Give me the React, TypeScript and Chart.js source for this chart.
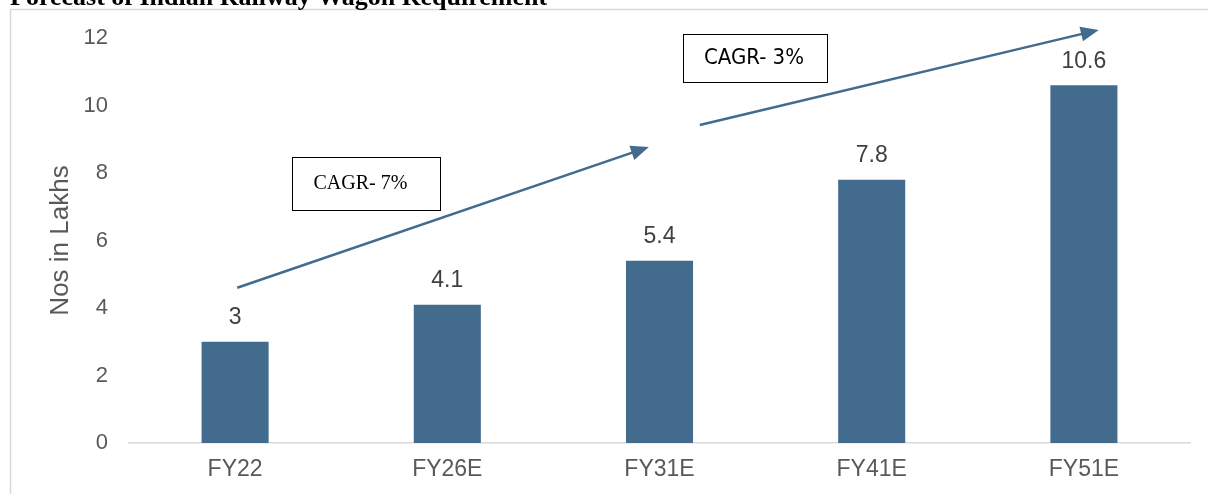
import React, { useEffect, useRef } from "react";
import { Chart, registerables } from "chart.js";

Chart.register(...registerables);

const categories = ["FY22", "FY26E", "FY31E", "FY41E", "FY51E"];
const values = [3, 4.1, 5.4, 7.8, 10.6];
const yMin = 0;
const yMax = 12;
const yStep = 2;
const titleText = "Forecast of Indian Railway Wagon Requirement";
const yAxisTitle = "Nos in Lakhs";
const cagrLabels = ["CAGR- 7%", "CAGR- 3%"];

const BAR = "#426B8E";
const GRAY = "#595959";

const W = 1208;
const H = 494;

// annotation geometry in data space (x = category index, y = value)
const arrows = [
  { x0: 0.01, y0: 4.6, x1: 1.95, y1: 8.77 },
  { x0: 2.19, y0: 9.42, x1: 4.07, y1: 12.24 },
];
const boxes = [
  { x0: 0.27, y0: 8.47, x1: 0.967, y1: 6.9, font: "20px 'Liberation Serif'", dx: -6 },
  { x0: 2.11, y0: 12.12, x1: 2.79, y1: 10.7, font: "22px 'DejaVu Sans Condensed'", dx: -1 },
];

const decorPlugin = {
  id: "decor",
  beforeDraw(chart: any) {
    const { ctx } = chart;
    ctx.save();
    ctx.fillStyle = "#ffffff";
    ctx.fillRect(0, 0, W, H);
    // frame
    ctx.strokeStyle = "#d9d9d9";
    ctx.lineWidth = 1.5;
    ctx.beginPath();
    ctx.moveTo(10.5, H + 2);
    ctx.lineTo(10.5, 9.5);
    ctx.lineTo(W + 2, 9.5);
    ctx.stroke();
    // title (cut at top)
    ctx.fillStyle = "#000000";
    ctx.font = "bold 26px 'Liberation Serif'";
    ctx.textAlign = "left";
    ctx.textBaseline = "alphabetic";
    ctx.fillText(titleText, 10, 5);
    // y axis title
    const yScale = chart.scales.y;
    ctx.fillStyle = GRAY;
    ctx.font = "26px 'Liberation Sans'";
    ctx.translate(61, (yScale.top + yScale.bottom) / 2);
    ctx.rotate(-Math.PI / 2);
    ctx.textAlign = "center";
    ctx.textBaseline = "middle";
    ctx.fillText(yAxisTitle, 0, 0);
    ctx.restore();
  },
  afterDraw(chart: any) {
    const { ctx } = chart;
    const xs = chart.scales.x;
    const ys = chart.scales.y;
    const px = (v: number) => {
      const a = xs.getPixelForValue(0);
      const b = xs.getPixelForValue(1);
      return a + (b - a) * v;
    };
    const py = (v: number) => ys.getPixelForValue(v);
    ctx.save();
    // data labels
    const meta = chart.getDatasetMeta(0);
    ctx.fillStyle = "#404040";
    ctx.font = "23px 'Liberation Sans'";
    ctx.textAlign = "center";
    ctx.textBaseline = "middle";
    meta.data.forEach((bar: any, i: number) => {
      ctx.fillText(String(values[i]), bar.x, bar.y - 24);
    });
    // arrows
    ctx.strokeStyle = BAR;
    ctx.fillStyle = BAR;
    ctx.lineWidth = 2.5;
    arrows.forEach((a) => {
      const X0 = px(a.x0), Y0 = py(a.y0), X1 = px(a.x1), Y1 = py(a.y1);
      const ang = Math.atan2(Y1 - Y0, X1 - X0);
      const len = 18;
      const half = 7.5;
      const bx = X1 - len * Math.cos(ang);
      const by = Y1 - len * Math.sin(ang);
      ctx.beginPath();
      ctx.moveTo(X0, Y0);
      ctx.lineTo(bx + 2 * Math.cos(ang), by + 2 * Math.sin(ang));
      ctx.stroke();
      ctx.beginPath();
      ctx.moveTo(X1, Y1);
      ctx.lineTo(bx + half * Math.sin(ang), by - half * Math.cos(ang));
      ctx.lineTo(bx - half * Math.sin(ang), by + half * Math.cos(ang));
      ctx.closePath();
      ctx.fill();
    });
    // boxes
    boxes.forEach((b, i) => {
      const X0 = px(b.x0), Y0 = py(b.y0), X1 = px(b.x1), Y1 = py(b.y1);
      ctx.fillStyle = "#ffffff";
      ctx.fillRect(X0, Y0, X1 - X0, Y1 - Y0);
      ctx.strokeStyle = "#000000";
      ctx.lineWidth = 1;
      ctx.strokeRect(Math.round(X0) + 0.5, Math.round(Y0) + 0.5, Math.round(X1 - X0), Math.round(Y1 - Y0));
      ctx.fillStyle = "#000000";
      ctx.font = b.font;
      ctx.textAlign = "center";
      ctx.textBaseline = "middle";
      ctx.fillText(cagrLabels[i], (X0 + X1) / 2 + b.dx, (Y0 + Y1) / 2);
    });
    ctx.restore();
  },
};

export default function App() {
  const ref = useRef<HTMLCanvasElement | null>(null);
  useEffect(() => {
    if (!ref.current) return;
    const chart = new Chart(ref.current, {
      type: "bar",
      data: {
        labels: categories,
        datasets: [
          {
            data: values,
            backgroundColor: BAR,
            borderWidth: 0,
            barPercentage: 1,
            categoryPercentage: 0.316,
          },
        ],
      },
      plugins: [decorPlugin],
      options: {
        responsive: false,
        animation: false,
        events: [],
        layout: { padding: { left: 0, right: 18, top: 38, bottom: 0 } },
        plugins: {
          legend: { display: false },
          tooltip: { enabled: false },
          title: { display: false },
        },
        scales: {
          x: {
            grid: { display: false, drawTicks: false },
            border: { display: true, color: "#d9d9d9", width: 1.5 },
            ticks: {
              color: GRAY,
              font: { family: "'Liberation Sans'", size: 23 },
              padding: 13,
              maxRotation: 0,
            },
            afterFit: (s: any) => {
              s.height = 51;
            },
          },
          y: {
            min: yMin,
            max: yMax,
            grid: { display: false, drawTicks: false },
            border: { display: false },
            ticks: {
              stepSize: yStep,
              color: GRAY,
              font: { family: "'Liberation Sans'", size: 22 },
              padding: 21,
            },
            afterFit: (s: any) => {
              s.width = 129;
            },
          },
        },
      },
    });
    return () => chart.destroy();
  }, []);
  return (
    <div style={{ position: "fixed", left: 0, top: 0, width: W, height: H, background: "#fff" }}>
      <canvas ref={ref} width={W} height={H} style={{ display: "block", width: W, height: H }} />
    </div>
  );
}
